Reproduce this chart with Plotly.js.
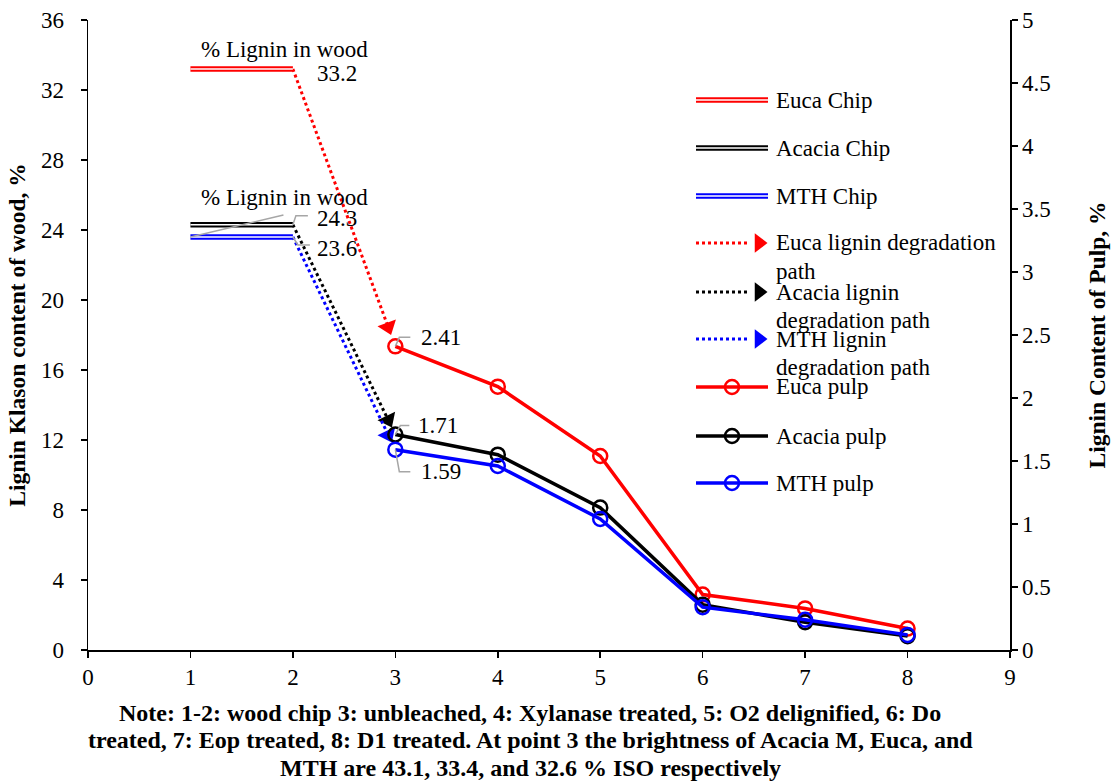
<!DOCTYPE html>
<html>
<head>
<meta charset="utf-8">
<script src="https://cdn.plot.ly/plotly-3.0.1.min.js"></script>
<style>html,body{margin:0;padding:0;background:#fff;}#chart{width:1111px;height:784px;}</style>
</head>
<body>
<div id="chart"></div>
<script>
// ---- data ----
const chipX = [1, 2];
const eucaChip = 33.2;
const acaciaChip = 24.3;
const mthChip = 23.6;
const pulpX = [3, 4, 5, 6, 7, 8];
const eucaPulp = [2.41, 2.09, 1.54, 0.44, 0.33, 0.17];
const acaciaPulp = [1.71, 1.55, 1.13, 0.36, 0.22, 0.11];
const mthPulp = [1.59, 1.46, 1.04, 0.34, 0.24, 0.12];
const xTicks = [0, 1, 2, 3, 4, 5, 6, 7, 8, 9];
const leftTicks = [0, 4, 8, 12, 16, 20, 24, 28, 32, 36];
const rightTicks = [0, 0.5, 1, 1.5, 2, 2.5, 3, 3.5, 4, 4.5, 5];
const legendNames = ['Euca Chip', 'Acacia Chip', 'MTH Chip',
  ['Euca lignin degradation', 'path'], ['Acacia lignin', 'degradation path'], ['MTH lignin', 'degradation path'],
  'Euca pulp', 'Acacia pulp', 'MTH pulp'];
const noteLines = ['Note: 1-2: wood chip 3: unbleached, 4: Xylanase treated, 5: O2 delignified, 6: Do',
  'treated, 7: Eop treated, 8: D1 treated. At point 3 the brightness of Acacia M, Euca, and',
  'MTH are 43.1, 33.4, and 32.6 % ISO respectively'];

// ---- layout constants ----
const W = 1111, H = 784;
const M = {l: 88, r: 101, t: 20, b: 134};
const PW = W - M.l - M.r, PH = H - M.t - M.b;
const px2x = px => (px - M.l) / PW;
const py2y = py => (M.t + PH - py) / PH;
const RED = '#FF0000', BLK = '#000000', BLU = '#0000FF', GRAY = '#A6A6A6';
const FONT = "'Liberation Serif', 'Times New Roman', Times, serif";
const ratio = 36 / 5;

const traces = [];
const series = [
  {chip: eucaChip, pulp: eucaPulp, c: RED},
  {chip: acaciaChip, pulp: acaciaPulp, c: BLK},
  {chip: mthChip, pulp: mthPulp, c: BLU}
];

// degradation paths (dotted with arrowhead)
const f = 0.93;
series.forEach(s => {
  const target = s.pulp[0] * ratio;
  const px = [chipX[1], chipX[1] + f * (pulpX[0] - chipX[1])];
  const py = [s.chip, s.chip + f * (target - s.chip)];
  traces.push({x: px, y: py, mode: 'lines', xaxis: 'x', yaxis: 'y',
    line: {color: s.c, width: 3, dash: 'dot'}, showlegend: false, hoverinfo: 'skip'});
  traces.push({x: px, y: py, mode: 'markers', xaxis: 'x', yaxis: 'y',
    marker: {symbol: 'triangle-up', size: [0, 17], color: s.c, opacity: 1, angleref: 'previous', line: {width: 0}},
    showlegend: false, hoverinfo: 'skip'});
});
// chip double lines
series.forEach(s => {
  traces.push({x: chipX, y: [s.chip, s.chip], mode: 'lines', xaxis: 'x', yaxis: 'y',
    line: {color: s.c, width: 5.5}, showlegend: false, hoverinfo: 'skip'});
  traces.push({x: chipX, y: [s.chip, s.chip], mode: 'lines', xaxis: 'x', yaxis: 'y',
    line: {color: '#FFFFFF', width: 1.6}, showlegend: false, hoverinfo: 'skip'});
});
// pulp lines
series.forEach(s => {
  traces.push({x: pulpX, y: s.pulp, mode: 'lines+markers', xaxis: 'x', yaxis: 'y2',
    line: {color: s.c, width: 3.5},
    marker: {symbol: 'circle-open', size: 14, color: s.c, line: {width: 2.5, color: s.c}},
    showlegend: false});
});

// ---- custom legend on hidden overlay axes ----
const legRows = [100, 148, 196, 243, 292, 339, 387, 436, 483];
const lx0 = 696, lx1 = 768, ltx = 774;
const annotations = [];
legendNames.forEach((name, i) => {
  const y = py2y(legRows[i]);
  const s = series[i % 3];
  if (i < 3) {
    traces.push({x: [px2x(lx0), px2x(lx1)], y: [y, y], mode: 'lines', xaxis: 'x3', yaxis: 'y3',
      line: {color: s.c, width: 5.5}, showlegend: false, hoverinfo: 'skip'});
    traces.push({x: [px2x(lx0), px2x(lx1)], y: [y, y], mode: 'lines', xaxis: 'x3', yaxis: 'y3',
      line: {color: '#FFFFFF', width: 1.6}, showlegend: false, hoverinfo: 'skip'});
  } else if (i < 6) {
    traces.push({x: [px2x(lx0), px2x(750)], y: [y, y], mode: 'lines', xaxis: 'x3', yaxis: 'y3',
      line: {color: s.c, width: 3, dash: 'dot'}, showlegend: false, hoverinfo: 'skip'});
    traces.push({x: [px2x(759)], y: [y], mode: 'markers', xaxis: 'x3', yaxis: 'y3',
      marker: {symbol: 'triangle-right', size: 17, color: s.c, opacity: 1, line: {width: 0}},
      showlegend: false, hoverinfo: 'skip'});
  } else {
    traces.push({x: [px2x(lx0), px2x(lx1)], y: [y, y], mode: 'lines', xaxis: 'x3', yaxis: 'y3',
      line: {color: s.c, width: 3.5}, showlegend: false, hoverinfo: 'skip'});
    traces.push({x: [px2x((lx0 + lx1) / 2)], y: [y], mode: 'markers', xaxis: 'x3', yaxis: 'y3',
      marker: {symbol: 'circle-open', size: 14, color: s.c, line: {width: 2.5, color: s.c}},
      showlegend: false, hoverinfo: 'skip'});
  }
  const lines = Array.isArray(name) ? name : [name];
  lines.forEach((t, j) => {
    annotations.push({xref: 'paper', yref: 'paper', x: px2x(ltx), y: py2y(legRows[i] + j * 28.5),
      xanchor: 'left', yanchor: 'middle', text: t, showarrow: false,
      font: {family: FONT, size: 23, color: '#000'}});
  });
});

// ---- data labels ----
const lblFont = {family: FONT, size: 23, color: '#000'};
annotations.push({xref: 'x', yref: 'y', x: chipX[1], y: eucaChip, text: '% Lignin in wood', showarrow: false,
  xanchor: 'center', yanchor: 'middle', xshift: -8, yshift: 20, font: lblFont});
annotations.push({xref: 'x', yref: 'y', x: chipX[1], y: acaciaChip, text: '% Lignin in wood', showarrow: false,
  xanchor: 'center', yanchor: 'middle', xshift: -8, yshift: 27, font: lblFont});
annotations.push({xref: 'x', yref: 'y', x: chipX[1], y: eucaChip, text: String(eucaChip), showarrow: false,
  xanchor: 'left', yanchor: 'middle', xshift: 22, yshift: -4, font: lblFont});
annotations.push({xref: 'x', yref: 'y', x: chipX[1], y: acaciaChip, text: String(acaciaChip), showarrow: false,
  xanchor: 'left', yanchor: 'middle', xshift: 22, yshift: 6, font: lblFont});
annotations.push({xref: 'x', yref: 'y', x: chipX[1], y: mthChip, text: String(mthChip), showarrow: false,
  xanchor: 'left', yanchor: 'middle', xshift: 22, yshift: -11, font: lblFont});
annotations.push({xref: 'x', yref: 'y2', x: pulpX[0], y: eucaPulp[0], text: eucaPulp[0].toFixed(2), showarrow: false,
  xanchor: 'left', yanchor: 'middle', xshift: 24, yshift: 9, font: lblFont});
annotations.push({xref: 'x', yref: 'y2', x: pulpX[0], y: acaciaPulp[0], text: acaciaPulp[0].toFixed(2), showarrow: false,
  xanchor: 'left', yanchor: 'middle', xshift: 21, yshift: 9, font: lblFont});
annotations.push({xref: 'x', yref: 'y2', x: pulpX[0], y: mthPulp[0], text: mthPulp[0].toFixed(2), showarrow: false,
  xanchor: 'left', yanchor: 'middle', xshift: 24, yshift: -22, font: lblFont});

// note (three centred bold lines)
const noteRows = [713, 740, 768];
noteLines.forEach((t, i) => {
  annotations.push({xref: 'paper', yref: 'paper', x: px2x(530), y: py2y(noteRows[i]), xanchor: 'center', yanchor: 'middle',
    text: '<b>' + t + '</b>', showarrow: false, font: {family: FONT, size: 24, color: '#000'}});
});

// leader lines (pixel-sized paths anchored at data points)
const leader = (xa, ya, yref, path) => ({type: 'path', xref: 'x', yref: yref, xsizemode: 'pixel', ysizemode: 'pixel',
  xanchor: xa, yanchor: ya, path: path, line: {color: GRAY, width: 1.5}});
const shapes = [
  leader(chipX[1], acaciaChip, 'y', 'M0,0 L3,9 L15,9'),
  leader(chipX[1], mthChip, 'y', 'M0,0 L5,-8 L17,-8'),
  leader(chipX[0], mthChip, 'y', 'M0,0 L93,22'),
  leader(pulpX[0], eucaPulp[0], 'y2', 'M0,0 L4,9 L15,9'),
  leader(pulpX[0], acaciaPulp[0], 'y2', 'M0,0 L5,9 L14,9'),
  leader(pulpX[0], mthPulp[0], 'y2', 'M0,0 L4,-22 L15,-22')
];

const tickFont = {family: FONT, size: 23, color: '#000'};
const titleFont = {family: FONT, size: 23.5, color: '#000'};
const layout = {
  width: W, height: H,
  margin: M,
  paper_bgcolor: '#fff', plot_bgcolor: '#fff',
  showlegend: false,
  xaxis: {range: [0, 9], tickvals: xTicks, ticktext: xTicks.map(String), showgrid: false, zeroline: false,
    showline: true, linecolor: '#000', linewidth: 1.5, ticks: 'outside', ticklen: 6, tickwidth: 1.5, tickcolor: '#000',
    tickfont: tickFont, fixedrange: true},
  yaxis: {range: [0, 36], tickvals: leftTicks, ticktext: leftTicks.map(String), showgrid: false, zeroline: false,
    showline: true, linecolor: '#000', linewidth: 1.5, ticks: 'outside', ticklen: 6, tickwidth: 1.5, tickcolor: '#000',
    ticklabelstandoff: 12,
    tickfont: tickFont, title: {text: '<b>Lignin Klason content of wood, %</b>', font: titleFont, standoff: 8}},
  yaxis2: {range: [0, 5], tickvals: rightTicks, ticktext: rightTicks.map(String), overlaying: 'y', side: 'right',
    showgrid: false, zeroline: false, showline: true, linecolor: '#000', linewidth: 1.5, ticks: 'outside', ticklen: 6,
    tickwidth: 1.5, tickcolor: '#000', tickfont: tickFont,
    title: {text: '<b>Lignin Content of Pulp, %</b>', font: titleFont, standoff: 38}},
  xaxis3: {overlaying: 'x', range: [0, 1], visible: false, anchor: 'y3'},
  yaxis3: {overlaying: 'y', range: [0, 1], visible: false, anchor: 'x3'},
  annotations: annotations,
  shapes: shapes
};
Plotly.newPlot('chart', traces, layout, {staticPlot: true});
</script>
</body>
</html>
